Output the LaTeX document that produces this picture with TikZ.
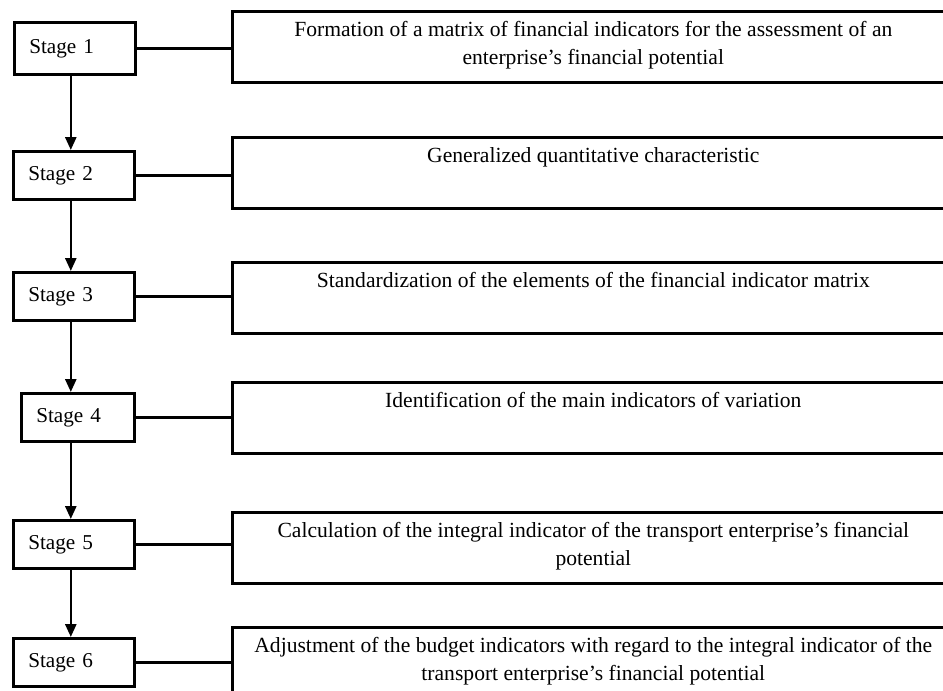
\documentclass[tikz,border=0pt]{standalone}
\usepackage{fontspec}
\setmainfont{Liberation Serif}
\usetikzlibrary{arrows.meta,positioning}

\tikzset{
  stagebox/.style={draw,line width=1.3pt,minimum height=24pt,inner xsep=7.5pt,
    text width=45.5pt,align=left,anchor=north west,font=\fontsize{10.6}{13}\selectfont},
  taskbox/.style={draw,line width=1.3pt,minimum width=361pt,minimum height=35.5pt,
    inner sep=0pt,anchor=north west},
  tasktext/.style={align=center,inner sep=0pt,font=\fontsize{10.8}{14}\selectfont},
  link/.style={line width=1.3pt},
  flow/.style={line width=1.3pt,-{Triangle[width=5.5pt,length=6.5pt]}}
}

\begin{document}
\begin{tikzpicture}[x=0.5pt,y=-0.5pt]
  \useasboundingbox (0,0) rectangle (943,691);
  \clip (0,0) rectangle (943,691);
  % stages
  \node[stagebox,minimum height=26pt] (s1) at (13,21) {Stage 1};
  \node[stagebox] (s2) at (12,150) {Stage 2};
  \node[stagebox] (s3) at (12,271) {Stage 3};
  \node[stagebox,inner xsep=7.5pt,text width=41.5pt] (s4) at (20,392) {Stage 4};
  \node[stagebox] (s5) at (12,519) {Stage 5};
  \node[stagebox] (s6) at (12,637) {Stage 6};
  % tasks
  \node[taskbox] (b1) at (231,10) {};
  \node[taskbox] (b2) at (231,136) {};
  \node[taskbox] (b3) at (231,261) {};
  \node[taskbox] (b4) at (231,381) {};
  \node[taskbox] (b5) at (231,511) {};
  \node[taskbox] (b6) at (231,626) {};
  \node[tasktext,below=5.5pt of b1.north] (t1) {Formation of a matrix of financial indicators for the assessment of an\\
    enterprise’s financial potential};
  \node[tasktext,below=5.5pt of b2.north] (t2) {Generalized quantitative characteristic};
  \node[tasktext,below=5.5pt of b3.north] (t3) {Standardization of the elements of the financial indicator matrix};
  \node[tasktext,below=5.5pt of b4.north] (t4) {Identification of the main indicators of variation};
  \node[tasktext,below=5.5pt of b5.north] (t5) {Calculation of the integral indicator of the transport enterprise’s financial\\
    potential};
  \node[tasktext,below=5.5pt of b6.north] (t6) {Adjustment of the budget indicators with regard to the integral indicator of the\\
    transport enterprise’s financial potential};
  % connectors
  \foreach \i in {1,...,6}
    \draw[link] (s\i.east) -- (s\i.east -| b\i.west);
  \foreach \a/\b in {1/2,2/3,3/4,4/5,5/6}
    \draw[flow] ([xshift=-2pt]s1.south |- s\a.south) -- ([xshift=-2pt]s1.south |- s\b.north);
\end{tikzpicture}
\end{document}
